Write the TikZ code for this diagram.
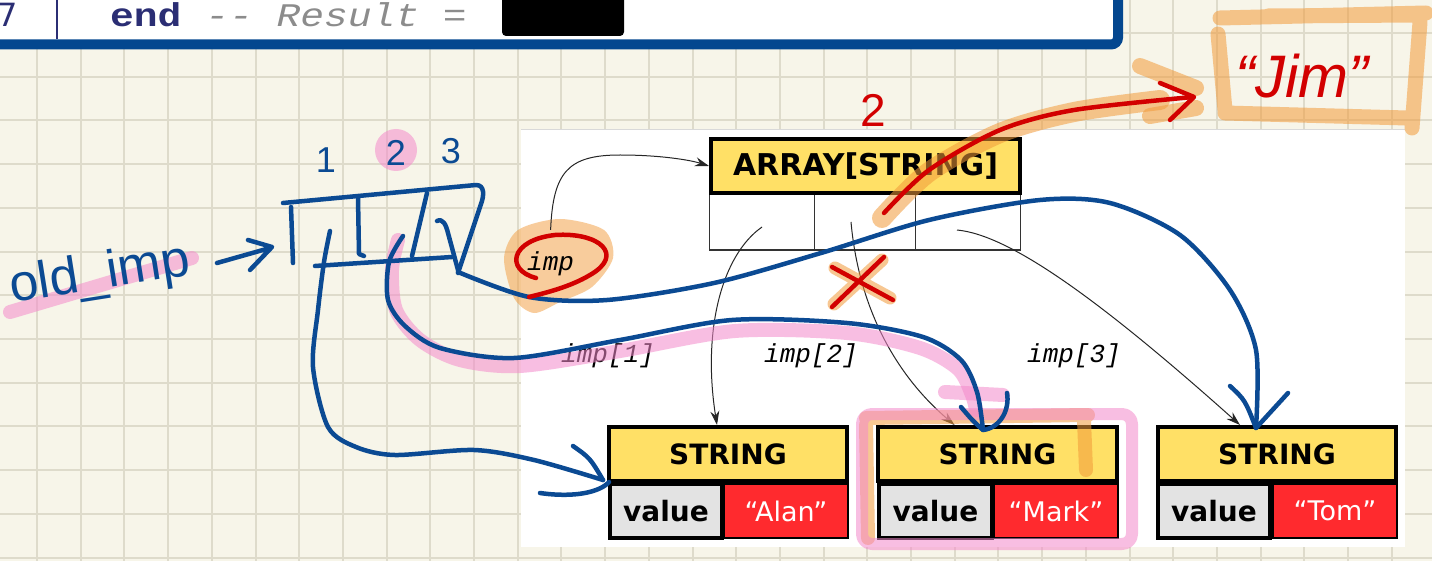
\documentclass[tikz,border=0pt]{standalone}
\usepackage{fontspec}
\setmainfont{DejaVu Sans}
\newfontfamily\dvs{DejaVu Sans}
\newfontfamily\mono{Liberation Mono}
\newfontfamily\monowide{Liberation Mono}[FakeStretch=1.2]
\newfontfamily\hand{Liberation Sans}
\usetikzlibrary{arrows.meta}
\definecolor{paper}{HTML}{F7F5E9}
\definecolor{gridc}{HTML}{DEDBCB}
\definecolor{codeblue}{HTML}{04478F}
\definecolor{navy}{HTML}{2B2E74}
\definecolor{cgray}{HTML}{8C8C8C}
\definecolor{ylw}{HTML}{FFE066}
\definecolor{valgray}{HTML}{E3E3E3}
\definecolor{strred}{HTML}{FF2A2E}
\definecolor{inkblue}{HTML}{0B4A93}
\definecolor{inkred}{HTML}{D20000}
\definecolor{hlorange}{HTML}{F29A3A}
\definecolor{hlpink}{HTML}{F48ACB}
\tikzset{
  gridline/.style={draw=gridc, line width=2pt},
  hdr/.style={draw=black, line width=4pt, fill=ylw, inner sep=0pt, minimum height=54pt, font=\dvs\bfseries\fontsize{28}{28}\selectfont},
  cellbox/.style={draw=black!80, line width=1.2pt, fill=white, minimum height=56pt, inner sep=0pt},
  valbox/.style={draw=black, line width=4pt, fill=valgray, minimum height=54pt, inner sep=0pt, font=\dvs\bfseries\fontsize{28}{28}\selectfont},
  redbox/.style={draw=black, line width=1.5pt, fill=strred, text=white, minimum height=54pt, inner sep=0pt, font=\dvs\fontsize{27}{27}\selectfont},
  lbl/.style={font=\mono\itshape\fontsize{26}{26}\selectfont, inner sep=0pt},
  ptr/.style={draw=black!85, line width=1pt, -{Stealth[length=14pt,width=9pt]}},
  ink/.style={draw=inkblue, line width=4.5pt, line cap=round, line join=round},
  redink/.style={draw=inkred, line width=4.5pt, line cap=round, line join=round},
  hlo/.style={draw=hlorange, line width=16pt, line cap=round, line join=round, draw opacity=.55},
  hlp/.style={draw=hlpink, line width=14pt, line cap=round, line join=round, draw opacity=.55},
  handtxt/.style={inner sep=0pt, font=\hand\fontsize{36}{36}\selectfont}
}
\begin{document}
\begin{tikzpicture}[x=1pt,y=-1pt]
\useasboundingbox (0,0) rectangle (1432,561);
% paper and grid
\fill[paper] (0,0) rectangle (1432,561);
\foreach \i in {0,...,32} \draw[gridline] ({37+43.7*\i},0) -- ({37+43.7*\i},561);
\foreach \j in {-2,...,10} \draw[gridline] (0,{120.5+43.7*\j}) -- (1432,{120.5+43.7*\j});
% code box
\draw[line width=10pt, draw=codeblue, fill=white, rounded corners=7pt] (-20,-20) rectangle (1118,44.5);
\draw[navy, line width=2pt] (57,-1) -- (57,39);
\node[anchor=base east, inner sep=0pt, text=navy, font=\dvs\fontsize{32}{32}\selectfont] (ln) at (18,27) {7};
\node[anchor=base west, inner sep=0pt, font=\monowide\fontsize{33}{33}\selectfont] (code) at (110,27)
  {\textcolor{navy}{\bfseries end} \textcolor{cgray}{\itshape\mbox{-}\mbox{-} Result =}};
\node[fill=black, rounded corners=4pt, minimum width=122pt, minimum height=44pt, inner sep=0pt] (res) at (563,14) {};
% white panel
\fill[white] (521,130) rectangle (1405,547);
\draw[black!15, line width=1pt] (521,130) -- (1405,130);
% orange blob behind imp
\fill[hlorange, fill opacity=.5] plot[smooth cycle] coordinates {(504,258) (518,230) (560,219) (604,230) (613,258) (592,287) (560,302) (534,313) (514,298)};
% array
\node[cellbox, minimum width=105pt] (c1) at (762,222) {};
\node[cellbox, minimum width=101pt] (c2) at (865,222) {};
\node[cellbox, minimum width=105pt] (c3) at (968,222) {};
\node[hdr, minimum width=309pt, font=\dvs\bfseries\fontsize{30}{30}\selectfont] (arr) at (865.5,166) {ARRAY[STRING]};
% strings
\node[redbox, minimum width=124pt] (r1) at (786,511) {“Alan”};
\node[valbox, minimum width=112pt] (v1) at (666,511) {value};
\node[hdr, minimum width=238pt] (s1) at (728,454) {STRING};
\node[redbox, minimum width=124pt] (r2) at (1056,511) {“Mark”};
\node[valbox, minimum width=113pt] (v2) at (935.5,511) {value};
\node[hdr, minimum width=239pt] (s2) at (997.5,454) {STRING};
\node[redbox, minimum width=124pt] (r3) at (1335,511) {“Tom”};
\node[valbox, minimum width=112pt] (v3) at (1214,511) {value};
\node[hdr, minimum width=238pt] (s3) at (1277,454) {STRING};
% labels
\node[lbl, anchor=base west] (imp) at (527,271) {imp};
\node[lbl, anchor=base west] (i1) at (561,362) {imp[1]};
\node[lbl, anchor=base west] (i2) at (764,362) {imp[2]};
\node[lbl, anchor=base west] (i3) at (1027,362) {imp[3]};
% pointers
\draw[ptr] ([yshift=22pt]imp.north) .. controls (553,172) and (568,155) .. (620,155) .. controls (660,155) and (690,160) .. (arr.west);
\draw[ptr] ([yshift=-5pt]c1.center) .. controls (722,255) and (702,330) .. ([xshift=-11pt]s1.north);
\draw[ptr] ([xshift=-14pt]c2.center) .. controls (858,300) and (890,370) .. ([xshift=-43pt]s2.north);
\draw[ptr] ([xshift=-11pt,yshift=-8pt]c3.center) .. controls (1010,235) and (1100,300) .. ([xshift=-37pt]s3.north);
% ---- highlights ----
\draw[hlo, line width=20pt] plot[smooth] coordinates {(882,218) (929,172) (1000,133) (1074,112) (1160,100)};
\draw[hlo] (1140,66) -- (1196,88) (1150,116) -- (1196,108);
\draw[hlo, line width=15pt] (1220,18) -- (1426,13) (1420,22) -- (1412,128) (1225,113) -- (1407,118) (1218,34) -- (1225,110) (1268,16) -- (1420,15);
\draw[hlo, line width=13pt] (835,268) -- (890,298) (882,260) -- (834,304);
\draw[hlo, line width=14pt] (866,418) -- (1088,415) (1084,420) -- (1086,470) (866,425) -- (868,538);
\draw[hlp] (10,312) -- (192,258);
\fill[hlpink, fill opacity=.55] (396,150) circle [radius=21];
\draw[hlp] plot[smooth] coordinates {(398,240) (392,270) (396,310) (420,340) (460,360) (520,366) (620,351) (735,331) (847,333) (920,348) (958,369) (972,395) (976,410)};
\draw[hlp] (945,392) -- (1003,395);
\draw[hlp, line width=12pt, rounded corners=10pt] (862,414) rectangle (1132,544);
% ---- blue ink ----
\node[handtxt, anchor=base west, rotate=9, text=inkblue, font=\hand\fontsize{52}{52}\selectfont] (oldimp) at (12,303) {old\_imp};
\draw[ink] (217,263) -- (270,248) (248,240) -- (272,247) -- (250,270);
\draw[ink] (283,203) -- (476,185) .. controls (485,185) and (484,196) .. (481,204) -- (458,273);
\draw[ink] (291,207) -- (293,263);
\draw[ink] (315,266) -- (452,257);
\draw[ink] (358,198) -- (359,254) -- (364,256);
\draw[ink] (427,193) -- (412,256);
\draw[ink] (437,221) .. controls (443,218) and (446,225) .. (448,233) -- (458,270);
\node[handtxt, text=inkblue] (n1) at (326,160) {1};
\node[handtxt, text=inkblue] (n2) at (396,153) {2};
\node[handtxt, text=inkblue] (n3) at (451,151) {3};
\coordinate (oc1) at (330,231);
\coordinate (oc2) at (403,236);
\coordinate (oc3) at (458,272);
\coordinate (t1) at (603,480);
\coordinate (t2) at (983,430);
\coordinate (t3) at (1256,428);
\draw[ink] plot[smooth] coordinates {(oc1) (324,262) (318,310) (313,367) (328,427) (356,447) (395,455) (474,450) (534,460) (t1)};
\draw[ink] (573,446) .. controls (590,458) .. (t1) (540,493) .. controls (575,498) and (600,492) .. (609,482);
\draw[ink] plot[smooth] coordinates {(oc2) (389,262) (388,300) (405,326) (440,348) (514,358) (620,340) (732,320) (847,323) (923,337) (961,360) (977,392) (t2)};
\draw[ink] (961,407) .. controls (972,420) .. (t2) .. controls (1000,428) and (1010,410) .. (1007,393);
\draw[ink] plot[smooth] coordinates {(oc3) (529,297) (607,300) (714,283) (821,253) (929,220) (1040,200) (1110,203) (1180,235) (1230,290) (1256,350) (t3)};
\draw[ink] (1230,386) .. controls (1245,400) .. (t3) -- (1288,393);
% ---- red ink ----
\draw[redink] (536,278) .. controls (505,270) and (510,240) .. (555,235) .. controls (600,232) and (625,255) .. (590,275) .. controls (570,287) and (545,293) .. (529,297);
\draw[redink] (832,267) -- (893,300) (884,257) -- (832,307);
\draw[redink] plot[smooth] coordinates {(884,213) (929,170) (1000,130) (1074,110) (1193,97)};
\draw[redink] (1160,83) -- (1194,97) -- (1170,120);
\node[handtxt, text=inkred, font=\hand\fontsize{46}{46}\selectfont] (two) at (873,110) {2};
\node[handtxt, text=inkred, font=\hand\itshape\fontsize{60}{60}\selectfont] (jim) at (1302,76) {“Jim”};
\end{tikzpicture}
\end{document}
